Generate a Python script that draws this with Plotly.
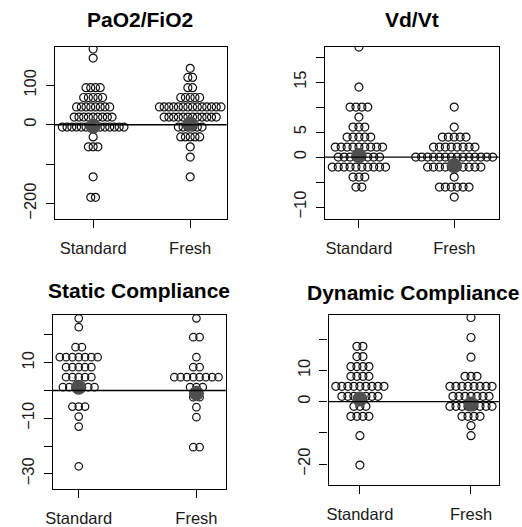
import plotly.graph_objects as go

# ---------------- data (row values of the swarm and number of dots per row) ----------------
groups = ["Standard", "Fresh"]
titles = ["PaO2/FiO2", "Vd/Vt", "Static Compliance", "Dynamic Compliance"]

pao2_std_rows = [192, 169, 94, 69, 45, 19.5, -6, -31, -56, -132, -184]
pao2_std_counts = [1, 1, 4, 5, 8, 9, 14, 1, 3, 1, 2]
pao2_fresh_rows = [143, 120, 94, 69, 45, 19.5, -6, -31, -56, -82, -132]
pao2_fresh_counts = [1, 2, 2, 5, 14, 12, 6, 5, 1, 1, 1]
pao2_centers = [-4, 2]

vdvt_std_rows = [22, 14, 10, 8, 6, 4, 2, 0, -2, -4, -6]
vdvt_std_counts = [1, 1, 4, 1, 3, 5, 9, 8, 10, 3, 2]
vdvt_fresh_rows = [10, 6, 4, 2, 0, -2, -4, -6, -8]
vdvt_fresh_counts = [1, 1, 5, 8, 14, 10, 1, 6, 1]
vdvt_centers = [0.3, -1.7]

static_std_rows = [26, 22.8, 15.6, 12, 8.4, 4.8, 1.2, -5.8, -9.4, -13, -27.3]
static_std_counts = [1, 1, 2, 7, 5, 5, 6, 3, 1, 1, 1]
static_fresh_rows = [26, 19.2, 12, 8.4, 4.8, 1.2, -2.4, -6, -9.6, -20.4]
static_fresh_counts = [1, 2, 1, 2, 8, 3, 2, 1, 1, 2]
static_centers = [1.2, -1]

dyn_std_rows = [17.7, 14.4, 11.2, 8.1, 4.9, 1.7, -1.5, -4.7, -10.9, -20.3]
dyn_std_counts = [2, 2, 4, 4, 9, 7, 3, 4, 1, 1]
dyn_fresh_rows = [26.9, 20.5, 14.2, 8.1, 4.9, 1.7, -1.5, -4.7, -7.7, -10.9]
dyn_fresh_counts = [1, 1, 1, 3, 8, 7, 8, 4, 1, 1]
dyn_centers = [0.8, -0.8]

pao2_ticks = [-200, -100, 0, 100]
pao2_ticktext = ["\u2212200", "", "0", "100"]
vdvt_ticks = [-10, -5, 0, 5, 10, 15, 20]
vdvt_ticktext = ["\u221210", "", "0", "5", "", "15", ""]
static_ticks = [-30, -20, -10, 0, 10, 20]
static_ticktext = ["\u221230", "", "\u221210", "", "10", ""]
dyn_ticks = [-20, -10, 0, 10, 20]
dyn_ticktext = ["\u221220", "", "0", "10", ""]

panels = [
    dict(rows=[(pao2_std_rows, pao2_std_counts), (pao2_fresh_rows, pao2_fresh_counts)],
         centers=pao2_centers, ticks=pao2_ticks, ticktext=pao2_ticktext),
    dict(rows=[(vdvt_std_rows, vdvt_std_counts), (vdvt_fresh_rows, vdvt_fresh_counts)],
         centers=vdvt_centers, ticks=vdvt_ticks, ticktext=vdvt_ticktext),
    dict(rows=[(static_std_rows, static_std_counts), (static_fresh_rows, static_fresh_counts)],
         centers=static_centers, ticks=static_ticks, ticktext=static_ticktext),
    dict(rows=[(dyn_std_rows, dyn_std_counts), (dyn_fresh_rows, dyn_fresh_counts)],
         centers=dyn_centers, ticks=dyn_ticks, ticktext=dyn_ticktext),
]

# ---------------- layout geometry (pixels) ----------------
W, H = 522, 527
geom = [
    dict(box=(48.3, 222.7, 46.7, 219.3), cx=(87.3, 185.7), yr=(-238.7, 198), sp=4.8, ds=8, title=(135, 20)),
    dict(box=(322, 498.3, 46.7, 219.0), cx=(356.7, 453.3), yr=(-12.3, 22.1), sp=6.0, ds=8, title=(410, 20)),
    dict(box=(46.7, 221.7, 315.3, 489.7), cx=(72.7, 192.0), yr=(-35.4, 27.3), sp=6.4, ds=7.5, title=(134, 291)),
    dict(box=(326, 498.7, 315.3, 485.7), cx=(357.7, 470.3), yr=(-26.6, 27.8), sp=6.1, ds=8, title=(412, 293)),
]

FONT = "Liberation Sans, Arial, Helvetica, sans-serif"
fig = go.Figure()
annotations = []
shapes = []

for i, (p, g) in enumerate(zip(panels, geom)):
    k = "" if i == 0 else str(i + 1)
    xa, ya = "x" + k, "y" + k
    x0, x1, yt, yb = g["box"]
    c1, c2 = g["cx"]
    ppu = c2 - c1  # pixels per x unit
    xr = (1 - (c1 - x0) / ppu, 2 + (x1 - c2) / ppu)
    step = g["sp"] / ppu

    for gi, (rows, counts) in enumerate(p["rows"]):
        xs, ys = [], []
        for v, n in zip(rows, counts):
            for j in range(n):
                xs.append(gi + 1 + (j - (n - 1) / 2) * step)
                ys.append(v)
        fig.add_trace(go.Scatter(
            x=xs, y=ys, mode="markers", xaxis=xa, yaxis=ya, showlegend=False,
            marker=dict(symbol="circle-open", size=g["ds"], color="#111111",
                        line=dict(width=1.2, color="#111111")),
            hoverinfo="y"))
    fig.add_trace(go.Scatter(
        x=[1, 2], y=p["centers"], mode="markers", xaxis=xa, yaxis=ya, showlegend=False,
        marker=dict(symbol="circle", size=15, color="#4f4f4f"), hoverinfo="y"))

    shapes.append(dict(type="line", xref="x" + k + " domain", yref=ya,
                       x0=0, x1=1, y0=0, y1=0,
                       line=dict(color="black", width=1.4), layer="above"))

    axis_common = dict(showline=True, linecolor="black", linewidth=1.3, mirror=True,
                       ticks="outside", ticklen=8, tickwidth=1.3, tickcolor="black",
                       showgrid=False, zeroline=False,
                       tickfont=dict(family=FONT, size=16.5, color="#1a1a1a"))
    fig.layout["xaxis" + k] = dict(
        axis_common, domain=[x0 / W, x1 / W], range=list(xr), anchor=ya,
        tickvals=[1, 2], ticktext=groups, ticklabelstandoff=6)
    fig.layout["yaxis" + k] = dict(
        axis_common, domain=[1 - yb / H, 1 - yt / H], range=list(g["yr"]), anchor=xa,
        tickvals=p["ticks"], ticktext=p["ticktext"], tickangle=-90, ticklabelstandoff=3)

    tx, ty = g["title"]
    annotations.append(dict(text="<b>" + titles[i] + "</b>", x=tx / W, y=1 - ty / H,
                            xref="paper", yref="paper", showarrow=False,
                            xanchor="center", yanchor="middle",
                            font=dict(family=FONT, size=21, color="black")))

fig.update_layout(width=W, height=H, margin=dict(l=0, r=0, t=0, b=0),
                  paper_bgcolor="white", plot_bgcolor="white",
                  annotations=annotations, shapes=shapes)

fig.write_html("out.html", config={"displayModeBar": False},
               post_script="document.body.style.margin='0';document.body.style.overflow='hidden';")
